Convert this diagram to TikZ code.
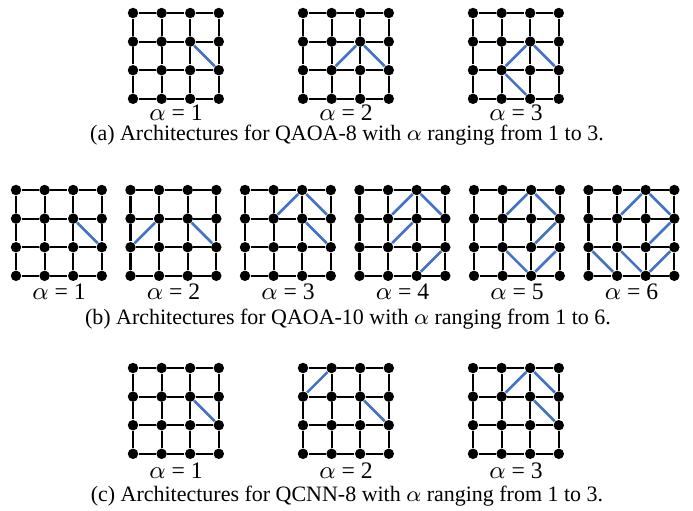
\documentclass[tikz,border=0pt]{standalone}
\usepackage{fontspec}
\setmainfont{Liberation Serif}
\usepackage{xcolor}
\usetikzlibrary{positioning}

\definecolor{qblue}{RGB}{68,114,196}

\tikzset{
  qubit/.style={circle, fill=black, inner sep=0pt, minimum size=3.8pt},
  link/.style={black, line width=0.75pt},
  extra/.style={qblue, line width=0.95pt},
  alab/.style={font=\fontsize{8.6}{10}\selectfont, inner sep=0pt},
  subcap/.style={font=\fontsize{8}{9.6}\selectfont, inner sep=0pt}
}

% grid of 4x4 qubits: name, left x, top y
\def\gap{28.6}
\newcommand{\qgrid}[3]{%
  \foreach \i in {0,...,3}{
    \foreach \j in {0,...,3}{
      \node[qubit] (#1-\i-\j) at ({#2+\i*\gap},{#3+\j*\gap}) {};
    }
  }
  \foreach \i in {0,...,3}{
    \foreach \j [count=\k] in {0,1,2}{
      \draw[link] (#1-\i-\j) -- (#1-\i-\k);
      \draw[link] (#1-\j-\i) -- (#1-\k-\i);
    }
  }
}

\begin{document}
\begin{tikzpicture}[x=0.364pt, y=-0.364pt]

\useasboundingbox (0,0) rectangle (693,510);

% (a) QAOA-8
\qgrid{a1}{133}{13}
\qgrid{a2}{303}{13}
\qgrid{a3}{473}{13}

\draw[extra] (a1-2-1) -- (a1-3-2);
\draw[extra] (a2-2-1) -- (a2-3-2);
\draw[extra] (a2-2-1) -- (a2-1-2);
\draw[extra] (a3-2-1) -- (a3-3-2);
\draw[extra] (a3-2-1) -- (a3-1-2);
\draw[extra] (a3-1-2) -- (a3-2-3);

\foreach \n/\x in {1/176, 2/346, 3/516}{
  \node[alab] (la\n) at (\x,113) {$\alpha$ = \n};
}
\node[subcap] (capa) at (347,135)
  {(a) Architectures for QAOA-8 with $\alpha$ ranging from 1 to 3.};

% (b) QAOA-10
\foreach \n/\x in {1/16, 2/130.5, 3/245, 4/359.5, 5/474, 6/588.5}{
  \qgrid{b\n}{\x}{190}
  \node[alab] (lb\n) at (\x+43,292) {$\alpha$ = \n};
}

\draw[extra] (b1-2-1) -- (b1-3-2);

\draw[extra] (b2-1-1) -- (b2-0-2);
\draw[extra] (b2-2-1) -- (b2-3-2);

\draw[extra] (b3-2-0) -- (b3-1-1);
\draw[extra] (b3-2-0) -- (b3-3-1);
\draw[extra] (b3-2-1) -- (b3-3-2);

\draw[extra] (b4-2-0) -- (b4-1-1);
\draw[extra] (b4-2-0) -- (b4-3-1);
\draw[extra] (b4-2-1) -- (b4-1-2);
\draw[extra] (b4-3-2) -- (b4-2-3);

\draw[extra] (b5-2-0) -- (b5-1-1);
\draw[extra] (b5-2-0) -- (b5-3-1);
\draw[extra] (b5-3-1) -- (b5-2-2);
\draw[extra] (b5-1-2) -- (b5-2-3);
\draw[extra] (b5-3-2) -- (b5-2-3);

\draw[extra] (b6-2-0) -- (b6-1-1);
\draw[extra] (b6-2-0) -- (b6-3-1);
\draw[extra] (b6-3-1) -- (b6-2-2);
\draw[extra] (b6-0-2) -- (b6-1-3);
\draw[extra] (b6-1-2) -- (b6-2-3);
\draw[extra] (b6-3-2) -- (b6-2-3);

\node[subcap] (capb) at (348,319)
  {(b) Architectures for QAOA-10 with $\alpha$ ranging from 1 to 6.};

% (c) QCNN-8
\qgrid{c1}{133}{368}
\qgrid{c2}{303}{368}
\qgrid{c3}{473}{368}

\draw[extra] (c1-2-1) -- (c1-3-2);
\draw[extra] (c2-1-0) -- (c2-0-1);
\draw[extra] (c2-2-1) -- (c2-3-2);
\draw[extra] (c3-2-0) -- (c3-1-1);
\draw[extra] (c3-2-0) -- (c3-3-1);
\draw[extra] (c3-2-1) -- (c3-3-2);

\foreach \n/\x in {1/176, 2/346, 3/516}{
  \node[alab] (lc\n) at (\x,471) {$\alpha$ = \n};
}
\node[subcap] (capc) at (347,496)
  {(c) Architectures for QCNN-8 with $\alpha$ ranging from 1 to 3.};

\end{tikzpicture}
\end{document}
